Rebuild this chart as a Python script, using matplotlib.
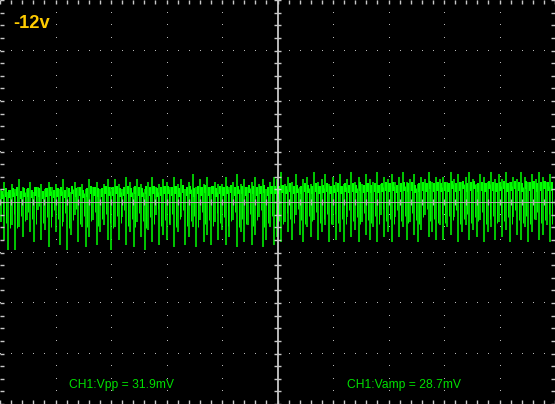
import numpy as np
import matplotlib
matplotlib.use("Agg")
import matplotlib.pyplot as plt

# scope settings: 20 mV per division, 10 x 8 divisions
mv_per_div = 20.0

# per-cycle values of the trace in mV, one row per horizontal division
band = [
    3, 4, 3.5, 4, 4.5, 3, 4, 4, 3.5, 4.5, 4, 3, 4, 4.5, 3.5,
    4, 4.5, 3.5, 4, 5, 4, 4.5, 3.5, 4, 5, 4.5, 4, 4, 5, 4.5,
    4.5, 5, 4, 4.5, 5, 4, 5, 4.5, 4, 5, 4.5, 5, 4, 4.5, 5,
    5, 4.5, 5, 4, 5.5, 4.5, 5, 4, 5, 4.5, 5.5, 4.5, 5, 4, 5,
    4.5, 5, 5.5, 4.5, 5, 5, 4.5, 5.5, 5, 4.5, 5, 5.5, 4.5, 5, 5,
    5, 5.5, 5, 6, 5, 5.5, 5, 6, 5.5, 5, 6, 5, 5.5, 6, 5,
    5.5, 6, 5, 6, 5.5, 6, 5.5, 6.5, 5.5, 6, 5.5, 6, 5.5, 6, 6.5,
    6, 6.5, 5.5, 6, 6.5, 6, 6.5, 5.5, 6, 6.5, 6, 7, 6, 6.5, 6,
    6.5, 6, 7, 6, 6.5, 7, 6, 6.5, 7, 6, 6.5, 6, 7, 6.5, 6,
    6.5, 7, 6, 6.5, 7, 6.5, 6, 7, 6.5, 7, 6, 6.5, 7, 6.5, 6.5,
]
peaks = [
    5, 8, 4, 7, 5, 9, 6, 5, 8, 4, 6, 7, 5, 8, 6,
    7, 5, 9, 6, 4, 8, 6, 7, 5, 9, 6, 8, 5, 7, 9,
    6, 9, 7, 5, 10, 8, 6, 9, 7, 5, 8, 10, 6, 7, 9,
    8, 6, 10, 7, 9, 5, 8, 11, 6, 9, 7, 10, 6, 8, 7,
    7, 10, 6, 8, 11, 7, 9, 6, 8, 10, 7, 9, 5, 8, 10,
    9, 12, 7, 10, 8, 11, 6, 9, 10, 7, 12, 8, 9, 11, 7,
    10, 8, 11, 7, 9, 12, 8, 10, 7, 11, 9, 8, 12, 7, 10,
    9, 11, 8, 10, 12, 8, 9, 11, 7, 10, 9, 12, 8, 10, 9,
    10, 8, 12, 9, 11, 8, 10, 12, 9, 7, 11, 10, 8, 12, 9,
    11, 9, 12, 8, 10, 9, 12, 10, 8, 11, 9, 12, 10, 8, 11,
]
dips = [
    -8, -15, -19, -9, -19, -10, -14, -7, -12, -16, -3, -15, -11, -18, -6,
    -12, -17, -8, -19, -13, -5, -16, -10, -18, -14, -7, -17, -12, -9, -15,
    -19, -10, -15, -6, -17, -12, -18, -8, -14, -19, -11, -16, -5, -17, -13,
    -15, -9, -18, -12, -6, -17, -14, -10, -18, -7, -16, -13, -17, -8, -15,
    -11, -17, -14, -7, -18, -12, -16, -9, -17, -13, -6, -18, -15, -10, -17,
    -14, -16, -8, -12, -15, -5, -13, -16, -10, -14, -7, -15, -12, -9, -16,
    -9, -15, -12, -16, -6, -14, -11, -16, -8, -13, -15, -10, -16, -5, -14,
    -12, -16, -6, -14, -10, -15, -8, -13, -16, -11, -5, -14, -12, -15, -9,
    -15, -10, -13, -6, -16, -12, -9, -15, -11, -14, -7, -16, -12, -10, -15,
    -8, -14, -11, -16, -6, -13, -15, -10, -16, -12, -7, -15, -13, -9, -16,
]

label_level = "-12v"
label_vpp = "CH1:Vpp = 31.9mV"
label_vamp = "CH1:Vamp = 28.7mV"

grid_col = "#B8B8B8"
axis_col = "#C8C8C8"
trace_col = "#00FF00"


def plot_scope():
    fig = plt.figure(figsize=(5.55, 4.04), dpi=100, facecolor="black")
    ax = fig.add_axes([0, 0, 1, 1])
    ax.set_facecolor("black")
    ax.set_xlim(0, 10)
    ax.set_ylim(-4, 4)
    ax.axis("off")

    # trace, drawn like the scope does: one vertical stroke per cycle
    # from dip to peak, plus the broken band the signal sits in
    n = len(peaks)
    edges = np.linspace(0, 9.97, n + 1)
    step = edges[1] - edges[0]
    xc = edges[:-1] + 0.2 * step
    b = np.array(band) / mv_per_div
    ax.bar(edges[:-1] + 0.3 * step, 0.17, width=0.6 * step, bottom=b - 0.1,
           align="edge", color=trace_col, lw=0, zorder=2)
    ax.vlines(xc, np.array(dips) / mv_per_div, np.array(peaks) / mv_per_div,
              color=trace_col, lw=1.1, zorder=2)
    # return strokes from the dip back up to the band
    ax.vlines(xc + 0.5 * step, np.array(dips) / mv_per_div * 0.55, b,
              color=trace_col, lw=0.7, zorder=2)

    # dotted graticule
    for gx in [1, 2, 3, 4, 6, 7, 8, 9]:
        ys = np.arange(-4, 4.01, 0.25)
        ax.plot(np.full_like(ys, gx), ys, ",", color=grid_col, zorder=1)
    for gy in [-3, -2, -1, 1, 2, 3]:
        xs = np.arange(0, 10.01, 0.2)
        ax.plot(xs, np.full_like(xs, gy), ",", color=grid_col, zorder=1)

    # centre axes with minor ticks, drawn over the trace
    ax.axvline(5, color=axis_col, lw=1.3, zorder=3)
    ax.axhline(0, color="#B0B0B0", lw=0.7, zorder=3)
    yt = np.arange(-4, 4.01, 0.25)
    ax.hlines(yt, 5 - 0.065, 5 + 0.065, color=axis_col, lw=1, zorder=3)
    xt = np.arange(0, 10.01, 0.2)
    ax.vlines(xt, -0.06, 0.06, color="#B0B0B0", lw=1, zorder=3)

    # edge ticks
    ax.hlines(yt, 0, 0.07, color=axis_col, lw=1, zorder=3)
    ax.hlines(yt, 9.93, 10, color=axis_col, lw=1, zorder=3)
    ax.vlines(xt, 3.93, 4, color=axis_col, lw=1, zorder=3)
    ax.vlines(xt, -4, -3.93, color=axis_col, lw=1, zorder=3)

    # labels
    ax.text(0.23, 3.45, label_level, color="#FFCC00", fontsize=13.2,
            fontweight="bold", family="Liberation Sans", va="baseline")
    ax.text(1.245, -3.69, label_vpp, color="#00E000", fontsize=8.7,
            family="Liberation Sans", va="baseline")
    ax.text(6.25, -3.69, label_vamp, color="#00E000", fontsize=8.7,
            family="Liberation Sans", va="baseline")

    plt.savefig("out.png", dpi=100, facecolor="black")


plot_scope()
